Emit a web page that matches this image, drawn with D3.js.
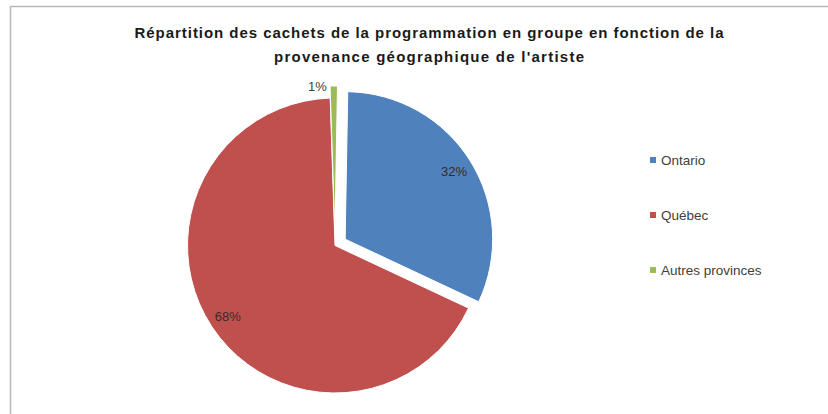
<!DOCTYPE html>
<html>
<head>
<meta charset="utf-8">
<script src="https://cdn.jsdelivr.net/npm/d3@7"></script>
<style>
  html, body { margin: 0; padding: 0; background: #ffffff; }
  svg { display: block; }
</style>
</head>
<body>
<svg id="chart" width="828" height="414"></svg>
<script>
// ---- Data ----
const titleLines = [
  "Répartition des cachets de la programmation en groupe en fonction de la",
  "provenance géographique de l'artiste"
];
const categories = ["Ontario", "Québec", "Autres provinces"];
const values = [31.7, 67.5, 0.8];           // share of fees, %
const labels = ["32%", "68%", "1%"];
const colors = ["#4F81BD", "#C0504D", "#9BBB59"];
const exploded = [12, 0, 12];                 // explosion offsets (px)

// ---- Layout ----
const svg = d3.select("#chart");
const W = 828, H = 414;
const cx = 335, cy = 245.5, R = 147.5;
const FONT = "Arial, 'Liberation Sans', sans-serif";

// frame
svg.append("rect")
  .attr("x", 10.5).attr("y", 6.5)
  .attr("width", W + 20).attr("height", H + 20)
  .attr("fill", "#ffffff")
  .attr("stroke", "#b8b8b8").attr("stroke-width", 1.5);

// title
const titleWidths = [589, 310];
titleLines.forEach((t, i) => {
  const el = svg.append("text")
    .attr("text-anchor", "middle")
    .attr("font-family", FONT)
    .attr("font-weight", "bold")
    .attr("font-size", 15)
    .attr("fill", "#1a1a1a")
    .attr("x", 429).attr("y", 38 + i * 24)
    .text(t);
  const w = el.node().getComputedTextLength();
  if (w < titleWidths[i]) {
    el.attr("textLength", titleWidths[i]).attr("lengthAdjust", "spacing");
  }
});

// pie
const pie = d3.pie().sort(null).value(d => d)
  .startAngle(1 * Math.PI / 180)
  .endAngle(1 * Math.PI / 180 + 2 * Math.PI);
const arcs = pie(values);
const arc = d3.arc().innerRadius(0).outerRadius(R);
const labelArc = d3.arc().innerRadius(R * 0.87).outerRadius(R * 0.87);

const g = svg.append("g").attr("transform", `translate(${cx},${cy})`);

function offset(a, i) {
  const mid = (a.startAngle + a.endAngle) / 2;
  return [Math.sin(mid) * exploded[i], -Math.cos(mid) * exploded[i]];
}

g.selectAll("path.slice")
  .data(arcs)
  .join("path")
  .attr("class", "slice")
  .attr("transform", (a, i) => { const o = offset(a, i); return `translate(${o[0]},${o[1]})`; })
  .attr("d", arc)
  .attr("fill", (a, i) => colors[i])
  .attr("stroke", "#ffffff")
  .attr("stroke-width", 1);

// labels
arcs.forEach((a, i) => {
  const o = offset(a, i);
  let x, y, anchor = "middle";
  if (a.endAngle - a.startAngle > 0.2) {
    const c = labelArc.centroid(a);
    x = c[0] + o[0]; y = c[1] + o[1] + 4.5;
  } else {
    const mid = (a.startAngle + a.endAngle) / 2;
    const rr = R + exploded[i];
    x = Math.sin(mid) * rr - 7; y = -Math.cos(mid) * rr + 5;
    anchor = "end";
  }
  g.append("text")
    .attr("x", x).attr("y", y)
    .attr("text-anchor", anchor)
    .attr("font-family", FONT)
    .attr("font-size", 13)
    .attr("fill", i === 2 ? "#404040" : "#3a2a2a")
    .text(labels[i]);
});

// legend
const legend = svg.append("g").attr("transform", "translate(650,160)");
categories.forEach((c, i) => {
  const row = legend.append("g").attr("transform", `translate(0,${i * 55})`);
  row.append("rect").attr("x", 0).attr("y", -3).attr("width", 6).attr("height", 6)
    .attr("fill", colors[i]);
  row.append("text").attr("x", 11).attr("y", 5)
    .attr("font-family", FONT)
    .attr("font-size", 13.5)
    .attr("fill", "#404040")
    .text(c);
});
</script>
</body>
</html>
